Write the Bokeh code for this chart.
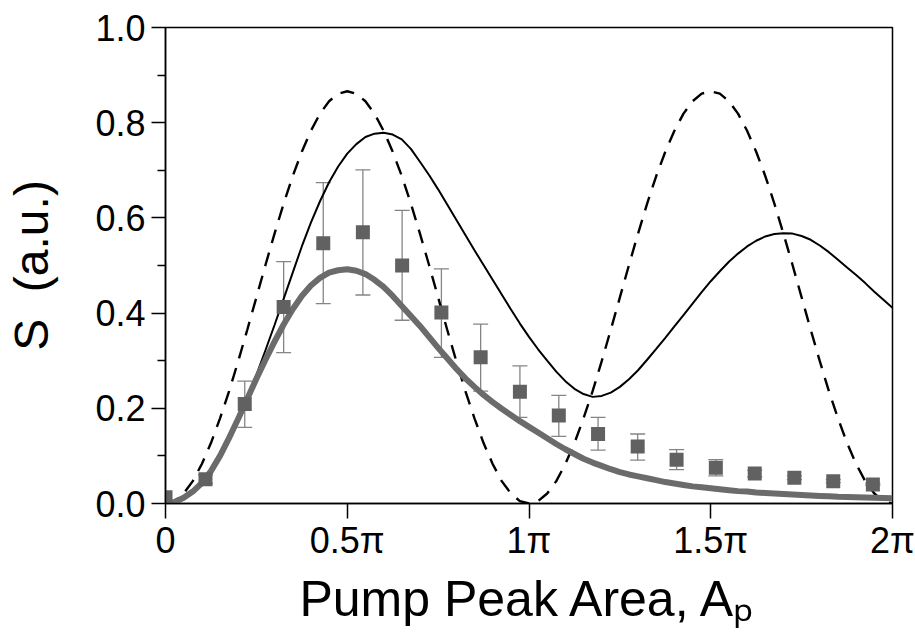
from bokeh.plotting import figure
from bokeh.models import Range1d, FixedTicker, Whisker, ColumnDataSource, TeeHead, PrintfTickFormatter
from bokeh.embed import file_html
from bokeh.resources import INLINE

# ---------------- data (x in units of pi) ----------------
x_ticks = [0, 0.5, 1, 1.5, 2]
x_tick_labels = ["0", "0.5\u03c0", "1\u03c0", "1.5\u03c0", "2\u03c0"]
y_ticks = [0.0, 0.2, 0.4, 0.6, 0.8, 1.0]
y_minor = [0.1, 0.3, 0.5, 0.7, 0.9]
x_title = "Pump Peak Area, A\u209a"
y_title = "S\u00a0\u00a0(a.u.)"

# measured points
pt_x = [0.0, 0.110, 0.218, 0.325, 0.434, 0.543, 0.651, 0.759, 0.867, 0.975,
        1.082, 1.190, 1.299, 1.406, 1.514, 1.621, 1.730, 1.837, 1.946]
pt_y = [0.013, 0.051, 0.209, 0.413, 0.547, 0.570, 0.500, 0.401, 0.307, 0.235,
        0.185, 0.146, 0.120, 0.092, 0.075, 0.063, 0.054, 0.047, 0.040]
err_upper = [0.013, 0.060, 0.257, 0.508, 0.674, 0.701, 0.616, 0.493, 0.377, 0.289,
             0.227, 0.181, 0.146, 0.113, 0.092, 0.070, 0.058, 0.050, 0.042]
err_lower = [0.013, 0.042, 0.160, 0.317, 0.420, 0.438, 0.385, 0.307, 0.236, 0.181,
             0.141, 0.112, 0.091, 0.071, 0.058, 0.056, 0.050, 0.044, 0.038]

# model curves sampled every 0.025 pi
curve_x = [0.000, 0.025, 0.050, 0.075, 0.100, 0.125, 0.150, 0.175, 0.200, 0.225,
           0.250, 0.275, 0.300, 0.325, 0.350, 0.375, 0.400, 0.425, 0.450, 0.475,
           0.500, 0.525, 0.550, 0.575, 0.600, 0.625, 0.650, 0.675, 0.700, 0.725,
           0.750, 0.775, 0.800, 0.825, 0.850, 0.875, 0.900, 0.925, 0.950, 0.975,
           1.000, 1.025, 1.050, 1.075, 1.100, 1.125, 1.150, 1.175, 1.200, 1.225,
           1.250, 1.275, 1.300, 1.325, 1.350, 1.375, 1.400, 1.425, 1.450, 1.475,
           1.500, 1.525, 1.550, 1.575, 1.600, 1.625, 1.650, 1.675, 1.700, 1.725,
           1.750, 1.775, 1.800, 1.825, 1.850, 1.875, 1.900, 1.925, 1.950, 1.975, 2.000]
dashed_y = [0.000, 0.005, 0.021, 0.047, 0.083, 0.127, 0.179, 0.236, 0.299, 0.365,
            0.433, 0.501, 0.567, 0.630, 0.688, 0.739, 0.783, 0.819, 0.845, 0.861,
            0.866, 0.861, 0.845, 0.819, 0.783, 0.739, 0.688, 0.630, 0.567, 0.501,
            0.433, 0.365, 0.299, 0.236, 0.179, 0.127, 0.083, 0.047, 0.021, 0.005,
            0.000, 0.005, 0.021, 0.047, 0.083, 0.127, 0.179, 0.236, 0.299, 0.365,
            0.433, 0.501, 0.567, 0.630, 0.688, 0.739, 0.783, 0.819, 0.845, 0.861,
            0.866, 0.861, 0.845, 0.819, 0.783, 0.739, 0.688, 0.630, 0.567, 0.501,
            0.433, 0.365, 0.299, 0.236, 0.179, 0.127, 0.083, 0.047, 0.021, 0.005, 0.000]
solid_y = [0.000, 0.003, 0.012, 0.026, 0.045, 0.070, 0.100, 0.135, 0.175, 0.221,
           0.270, 0.322, 0.375, 0.430, 0.485, 0.540, 0.590, 0.635, 0.675, 0.708,
           0.735, 0.755, 0.770, 0.777, 0.779, 0.775, 0.765, 0.745, 0.718, 0.690,
           0.660, 0.628, 0.596, 0.564, 0.532, 0.501, 0.470, 0.439, 0.408, 0.378,
           0.350, 0.324, 0.300, 0.277, 0.257, 0.241, 0.230, 0.224, 0.226, 0.233,
           0.245, 0.261, 0.280, 0.302, 0.325, 0.348, 0.372, 0.396, 0.420, 0.444,
           0.467, 0.488, 0.508, 0.525, 0.540, 0.552, 0.561, 0.566, 0.568, 0.567,
           0.562, 0.554, 0.542, 0.528, 0.512, 0.496, 0.480, 0.463, 0.445, 0.428, 0.411]
gray_y = [0.000, 0.003, 0.012, 0.025, 0.043, 0.068, 0.100, 0.138, 0.178, 0.220,
          0.262, 0.302, 0.340, 0.376, 0.408, 0.436, 0.458, 0.474, 0.485, 0.490,
          0.492, 0.489, 0.482, 0.470, 0.455, 0.436, 0.415, 0.394, 0.373, 0.350,
          0.327, 0.305, 0.283, 0.263, 0.245, 0.228, 0.213, 0.199, 0.186, 0.173,
          0.161, 0.149, 0.137, 0.125, 0.114, 0.104, 0.094, 0.086, 0.079, 0.072,
          0.066, 0.061, 0.057, 0.053, 0.049, 0.045, 0.042, 0.039, 0.036, 0.034,
          0.032, 0.030, 0.028, 0.026, 0.025, 0.023, 0.022, 0.021, 0.020, 0.019,
          0.018, 0.017, 0.016, 0.015, 0.014, 0.0135, 0.013, 0.0125, 0.012, 0.0115, 0.011]

FONT = "Liberation Sans"

p = figure(width=915, height=641, output_backend="svg", toolbar_location=None,
           x_range=Range1d(0, 2), y_range=Range1d(0, 1),
           min_border_left=165, min_border_right=23, min_border_top=27, min_border_bottom=138)
p.background_fill_color = "white"
p.border_fill_color = "white"
p.xgrid.visible = False
p.ygrid.visible = False
p.outline_line_color = "black"
p.outline_line_width = 1.5
p.outline_line_alpha = 1.0

# axes
p.xaxis.ticker = FixedTicker(ticks=x_ticks, minor_ticks=[])
p.xaxis.major_label_overrides = {t: s for t, s in zip(x_ticks, x_tick_labels)}
p.yaxis.ticker = FixedTicker(ticks=y_ticks, minor_ticks=y_minor)
p.yaxis.formatter = PrintfTickFormatter(format="%.1f")
for ax in (p.xaxis[0], p.yaxis[0]):
    ax.axis_line_color = "black"
    ax.axis_line_width = 1.5
    ax.major_tick_line_color = "black"
    ax.major_tick_line_width = 1.5
    ax.minor_tick_line_color = "black"
    ax.minor_tick_line_width = 1.5
    ax.major_tick_in = 0
    ax.minor_tick_in = 0
    ax.major_label_text_font = FONT
    ax.major_label_text_font_size = "36px"
    ax.major_label_text_color = "black"
    ax.axis_label_text_font = FONT
    ax.axis_label_text_font_style = "normal"
    ax.axis_label_text_color = "black"
p.xaxis.major_tick_out = 15
p.xaxis.major_label_standoff = 1
p.yaxis.major_tick_out = 14
p.yaxis.minor_tick_out = 8
p.yaxis.major_label_standoff = 6

p.xaxis.axis_label = x_title
p.xaxis.axis_label_text_font_size = "50px"
p.xaxis.axis_label_standoff = 7
p.yaxis.axis_label = y_title
p.yaxis.axis_label_text_font_size = "48px"
p.yaxis.axis_label_standoff = 34

# curves
p.line(curve_x, dashed_y, line_color="black", line_width=2.4, line_dash="14 10")
p.line(curve_x, solid_y, line_color="black", line_width=2)
p.line(curve_x, gray_y, line_color="#6b6b6b", line_width=6, line_join="round")

# error bars (point 0 has none)
err_src = ColumnDataSource(dict(x=pt_x[1:], upper=err_upper[1:], lower=err_lower[1:]))
wcol = "#858585"
w = Whisker(base="x", upper="upper", lower="lower", source=err_src,
            line_color=wcol, line_width=1.3,
            upper_head=TeeHead(size=15, line_color=wcol, line_width=1.3),
            lower_head=TeeHead(size=15, line_color=wcol, line_width=1.3))
p.add_layout(w)

p.scatter(pt_x, pt_y, marker="square", size=14, fill_color="#616161", line_color=None)

open("out.html", "w").write(file_html(p, INLINE))
